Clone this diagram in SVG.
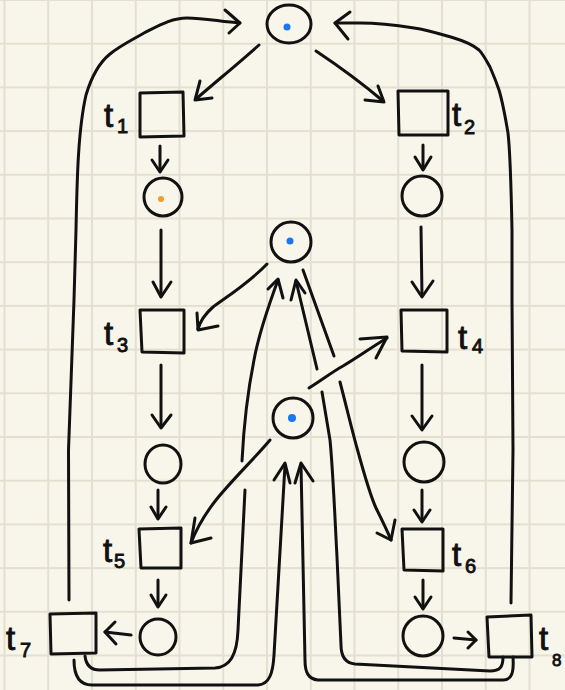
<svg xmlns="http://www.w3.org/2000/svg" width="565" height="690" viewBox="0 0 565 690">
  <defs>
    <pattern id="grid" x="3.5" y="-1" width="43.75" height="43.7" patternUnits="userSpaceOnUse">
      <path d="M1,0 V43.7 M0,1 H43.75" fill="none" stroke="#e3e0d1" stroke-width="2"/>
    </pattern>
    <style>
      .ink { fill: none; stroke: #111; stroke-width: 3; stroke-linecap: round; stroke-linejoin: round; }
      .place { fill: none; stroke: #111; stroke-width: 3; }
      .box { fill: none; stroke: #111; stroke-width: 3; stroke-linecap: round; stroke-linejoin: round; }
      .tok-blue { fill: #1877f2; }
      .tok-orange { fill: #f59a2c; }
      .lbl { font-family: "Liberation Sans", "DejaVu Sans", sans-serif; font-size: 33px; fill: #111; stroke: #111; stroke-width: 0.9; }
      .sub { font-size: 20px; }
    </style>
  </defs>

  <!-- paper -->
  <rect width="565" height="690" fill="#f8f6ea"/>
  <rect width="565" height="690" fill="url(#grid)"/>

  <!-- connectors -->
  <g id="connectors" class="ink">
    <!-- top place to t1 / t2 -->
    <path d="M259,45 C 240,62 218,80 196,99"/>
    <path d="M200,81 L195,100 L212,98"/>
    <path d="M316,51 C 340,67 363,84 383,101"/>
    <path d="M378,86 L384,102 L365,100"/>

    <!-- left column -->
    <path d="M160,146 L160,171"/>
    <path d="M152,160 L160,172 L168,160"/>
    <path d="M161,230 L161,296"/>
    <path d="M153,282 L161,297 L171,282"/>
    <path d="M161,365 L161,427"/>
    <path d="M152,415 L161,428 L171,415"/>
    <path d="M158,490 L158,518"/>
    <path d="M151,507 L158,519 L166,507"/>
    <path d="M158,580 L158,606"/>
    <path d="M151,595 L158,607 L166,595"/>
    <path d="M131,635 L105,632"/>
    <path d="M115,622 L105,632 L116,644"/>

    <!-- right column -->
    <path d="M423,145 L423,169"/>
    <path d="M415,157 L423,170 L431,157"/>
    <path d="M421,227 L422,296"/>
    <path d="M412,282 L422,297 L433,281"/>
    <path d="M422,365 L422,429"/>
    <path d="M412,416 L422,430 L432,416"/>
    <path d="M422,490 L422,521"/>
    <path d="M414,510 L422,522 L430,510"/>
    <path d="M423,580 L423,608"/>
    <path d="M415,597 L423,609 L431,597"/>
    <path d="M454,638 L476,640"/>
    <path d="M468,632 L476,640 L468,648"/>

    <!-- middle place to t3 -->
    <path d="M267,264 C 250,282 228,296 213,307 C 205,314 200,322 198,329"/>
    <path d="M197,313 L198,330 L218,326"/>

    <!-- lower middle place to t4 -->
    <path d="M309,388 C 322,380 332,372 343,366 C 358,357 372,347 387,338"/>
    <path d="M360,339 L387,337 L376,358"/>

    <!-- lower middle place to t5 -->
    <path d="M270,440 C 255,458 232,480 216,500 C 205,514 196,530 191,543"/>
    <path d="M195,518 L191,543 L211,538"/>

    <!-- middle place to t6 (gap where it crosses) -->
    <path d="M303,270 L334,356"/>
    <path d="M340,382 C 346,405 352,430 357,448 C 363,470 370,495 376,508 C 382,520 387,530 391,540"/>
    <path d="M377,533 L391,540 L395,520"/>

    <!-- t7 to middle place, outer left curve -->
    <path d="M85,656 C 86,665 91,670 100,670 L215,668 C 230,667 237,655 238,630 L245,490"/>
    <path d="M242,461 C 244,420 250,380 254,360 C 258,338 264,318 278,280"/>
    <path d="M268,289 L278,279 L283,298"/>

    <!-- t7 to lower middle place -->
    <path d="M74,660 C 74,676 80,685 92,685 L258,685 C 270,684 273,672 274,655 L285,465"/>
    <path d="M274,480 L285,463 L290,483"/>

    <!-- t8 to middle place, inner right curve -->
    <path d="M503,657 C 503,667 500,671 490,671 L355,664 C 345,663 341,656 341,645 L337,557 C 335,520 333,470 330,440 L322,392"/>
    <path d="M317,369 L296,281"/>
    <path d="M291,300 L296,280 L305,293"/>

    <!-- t8 to lower middle place -->
    <path d="M513,657 C 514,672 512,680 503,680 L318,680 C 308,679 305,672 305,660 L301,465"/>
    <path d="M295,483 L301,463 L313,481"/>

    <!-- t7 back to top place -->
    <path d="M69,600 L68.5,450 L74,300 L76,230 C 77,180 78,130 86,95 C 92,75 100,62 110,54 C 118,47 128,42 144,33 C 160,25 172,18 187,18 C 205,18 222,22 240,23"/>
    <path d="M225,10 L240,23 L229,33"/>

    <!-- t8 back to top place -->
    <path d="M511,603 L513,450 L512,300 L512,230 C 511,180 510,150 508,133 C 505,115 502,100 499,90 C 495,78 492,72 490,67 C 486,60 483,54 479,50 C 472,44 464,41 454,38 C 440,34 428,30 414,28 C 395,25 378,23 360,23 L335,23"/>
    <path d="M350,12 L335,23 L348,39"/>
  </g>

  <!-- places -->
  <g id="p-top">
    <ellipse class="place" cx="289" cy="24" rx="22" ry="19"/>
    <circle class="tok-blue" cx="287" cy="27" r="3.5"/>
  </g>
  <g id="p-left-1">
    <circle class="place" cx="163" cy="197" r="19"/>
    <circle class="tok-orange" cx="161" cy="199" r="3"/>
  </g>
  <g id="p-right-1">
    <circle class="place" cx="422" cy="196" r="20"/>
  </g>
  <g id="p-mid">
    <circle class="place" cx="291" cy="242" r="20"/>
    <circle class="tok-blue" cx="290" cy="241" r="3.5"/>
  </g>
  <g id="p-mid-low">
    <circle class="place" cx="293" cy="418" r="20"/>
    <circle class="tok-blue" cx="292" cy="418" r="4"/>
  </g>
  <g id="p-left-2">
    <ellipse class="place" cx="163" cy="464" rx="18" ry="19"/>
  </g>
  <g id="p-right-2">
    <circle class="place" cx="424" cy="462" r="20"/>
  </g>
  <g id="p-left-3">
    <ellipse class="place" cx="158" cy="637" rx="18" ry="18"/>
  </g>
  <g id="p-right-3">
    <circle class="place" cx="423" cy="636" r="20"/>
  </g>

  <!-- transitions -->
  <g id="t1">
    <path class="box" d="M140,93 L183,92 L184,136 L140,137 Z"/>
    <text class="lbl" x="104" y="127">t<tspan class="sub" x="117" y="133">1</tspan></text>
  </g>
  <g id="t2">
    <path class="box" d="M398,91 L448,91 L448,135 L399,135 Z"/>
    <text class="lbl" x="452" y="126">t<tspan class="sub" x="464" y="134">2</tspan></text>
  </g>
  <g id="t3">
    <path class="box" d="M140,310 L184,310 L184,353 L142,352 Z"/>
    <text class="lbl" x="104" y="345">t<tspan class="sub" x="117" y="352">3</tspan></text>
  </g>
  <g id="t4">
    <path class="box" d="M401,310 L447,310 L447,352 L402,351 Z"/>
    <text class="lbl" x="458" y="349">t<tspan class="sub" x="472" y="353">4</tspan></text>
  </g>
  <g id="t5">
    <path class="box" d="M139,529 L181,528 L181,568 L141,568 Z"/>
    <text class="lbl" x="103" y="562">t<tspan class="sub" x="114" y="568">5</tspan></text>
  </g>
  <g id="t6">
    <path class="box" d="M402,529 L443,529 L443,571 L404,570 Z"/>
    <text class="lbl" x="452" y="566">t<tspan class="sub" x="465" y="573">6</tspan></text>
  </g>
  <g id="t7">
    <path class="box" d="M50,614 L96,613 L96,653 L51,654 Z"/>
    <text class="lbl" x="6" y="650">t<tspan class="sub" x="20" y="657">7</tspan></text>
  </g>
  <g id="t8">
    <path class="box" d="M487,617 L531,615 L532,657 L489,657 Z"/>
    <text class="lbl" x="539" y="650">t<tspan class="sub" x="552" y="666" style="font-size:17px">8</tspan></text>
  </g>
</svg>
